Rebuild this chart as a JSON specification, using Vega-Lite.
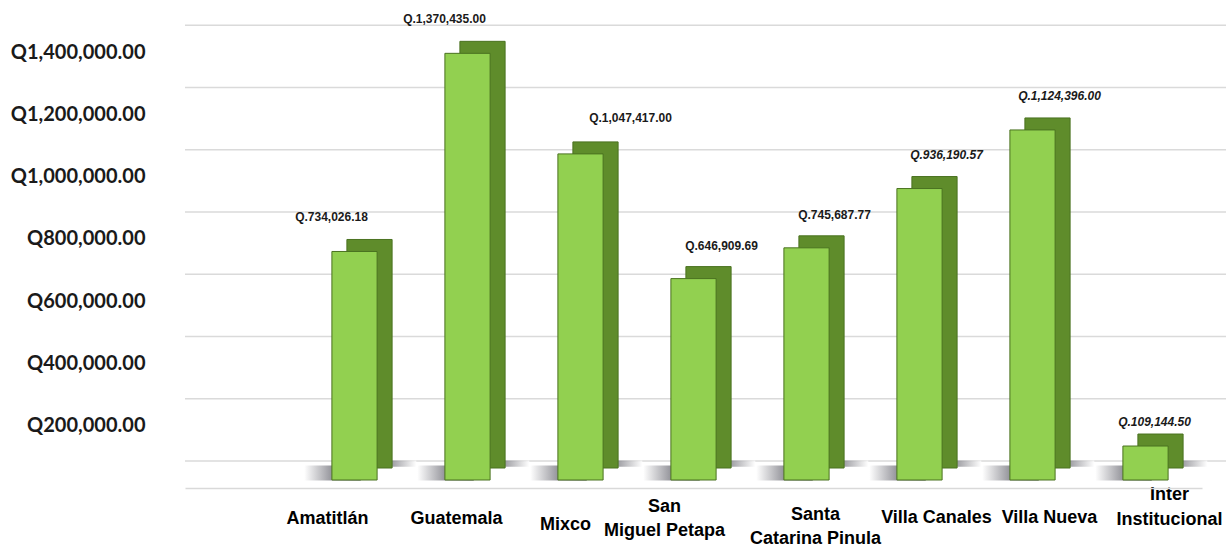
{
  "$schema": "https://vega.github.io/schema/vega-lite/v6.json",
  "autosize": {"type": "none"},
  "width": 1017,
  "height": 467,
  "padding": {"left": 185, "top": 21, "right": 24, "bottom": 64},
  "background": "white",
  "config": {
    "view": {"stroke": null},
    "locale": {"number": {"decimal": ".", "thousands": ",", "grouping": [3], "currency": ["Q", ""]}}
  },
  "datasets": {
    "montos": [
      {"municipio": "Amatitlán", "nombre": "Amatitlán", "monto": 734026.18, "etiqueta": "Q.734,026.18"},
      {"municipio": "Guatemala", "nombre": "Guatemala", "monto": 1370435.00, "etiqueta": "Q.1,370,435.00"},
      {"municipio": "Mixco", "nombre": "Mixco", "monto": 1047417.00, "etiqueta": "Q.1,047,417.00"},
      {"municipio": "San Miguel Petapa", "nombre": "San\nMiguel Petapa", "monto": 646909.69, "etiqueta": "Q.646,909.69"},
      {"municipio": "Santa Catarina Pinula", "nombre": "Santa\nCatarina Pinula", "monto": 745687.77, "etiqueta": "Q.745,687.77"},
      {"municipio": "Villa Canales", "nombre": "Villa Canales", "monto": 936190.57, "etiqueta": "Q.936,190.57"},
      {"municipio": "Villa Nueva", "nombre": "Villa Nueva", "monto": 1124396.00, "etiqueta": "Q.1,124,396.00"},
      {"municipio": "Inter Institucional", "nombre": "Inter\nInstitucional", "monto": 109144.50, "etiqueta": "Q.109,144.50"}
    ],
    "rejilla": [
      {"nivel": 0}, {"nivel": 200000}, {"nivel": 400000}, {"nivel": 600000},
      {"nivel": 800000}, {"nivel": 1000000}, {"nivel": 1200000}, {"nivel": 1400000}
    ]
  },
  "encoding": {
    "x": {
      "field": "municipio",
      "type": "nominal",
      "sort": null,
      "scale": {
        "domain": [" ", "Amatitlán", "Guatemala", "Mixco", "San Miguel Petapa", "Santa Catarina Pinula", "Villa Canales", "Villa Nueva", "Inter Institucional"],
        "paddingInner": 0,
        "paddingOuter": 0
      },
      "axis": {
        "title": null,
        "labels": false,
        "ticks": false,
        "domain": true,
        "domainColor": "#d9d9d9",
        "domainWidth": 1.5,
        "grid": false
      }
    },
    "y": {
      "field": "monto",
      "type": "quantitative",
      "scale": {"domain": [0, 1500000], "nice": false, "zero": true},
      "axis": {
        "title": null,
        "values": [200000, 400000, 600000, 800000, 1000000, 1200000, 1400000],
        "format": "$,.2f",
        "labelFont": "Lato, Open Sans, sans-serif",
        "labelFontWeight": "bold",
        "labelFontSize": 20,
        "labelColor": "#1a1a1a",
        "labelPadding": 40,
        "ticks": false,
        "domain": false,
        "grid": false
      }
    }
  },
  "layer": [
    {
      "data": {"name": "rejilla"},
      "mark": {"type": "rule", "color": "#dadada", "strokeWidth": 1.5, "xOffset": 27, "yOffset": -27},
      "encoding": {
        "x": null,
        "y": {
          "field": "nivel",
          "type": "quantitative",
          "scale": {"domain": [0, 1500000], "nice": false, "zero": true},
          "axis": {
            "title": null,
            "values": [200000, 400000, 600000, 800000, 1000000, 1200000, 1400000],
            "format": "$,.2f",
            "labelFont": "Lato, Open Sans, sans-serif",
            "labelFontWeight": "bold",
            "labelFontSize": 20,
            "labelColor": "#1a1a1a",
            "labelPadding": 40,
            "ticks": false,
            "domain": false,
            "grid": false
          }
        }
      }
    },
    {
      "data": {"name": "montos"},
      "mark": {
        "type": "rect",
        "width": {"band": 0.35},
        "xOffset": 42,
        "opacity": 0.8,
        "color": {"gradient": "linear", "x1": 0, "x2": 1, "y1": 0, "y2": 0, "stops": [{"offset": 0, "color": "#3c3c46"}, {"offset": 1, "color": "#ffffff"}]}
      },
      "encoding": {
        "y": {"datum": 68000, "type": "quantitative"},
        "y2": {"datum": 88000}
      }
    },
    {
      "data": {"name": "montos"},
      "mark": {
        "type": "rect",
        "width": {"band": 0.5},
        "xOffset": -22,
        "opacity": 0.9,
        "color": {"gradient": "linear", "x1": 0, "x2": 1, "y1": 0, "y2": 0, "stops": [{"offset": 0, "color": "#ffffff"}, {"offset": 0.55, "color": "#7a7a82"}, {"offset": 1, "color": "#33333d"}]}
      },
      "encoding": {
        "y": {"datum": 24000, "type": "quantitative"},
        "y2": {"datum": 72000}
      }
    },
    {
      "data": {"name": "montos"},
      "mark": {"type": "bar", "width": {"band": 0.4}, "color": "#5f8c2b", "stroke": "#4a7220", "strokeWidth": 1, "xOffset": 15, "yOffset": -20}
    },
    {
      "data": {"name": "montos"},
      "mark": {"type": "bar", "width": {"band": 0.4}, "color": "#92d050", "stroke": "#4a7220", "strokeWidth": 1, "yOffset": -8}
    },
    {
      "data": {"name": "montos"},
      "transform": [{"filter": "datum.municipio == 'Amatitlán'"}],
      "mark": {"type": "text", "font": "Liberation Sans, Arial, sans-serif", "fontWeight": "bold", "fontSize": 18, "color": "#000000", "baseline": "middle", "lineBreak": "\n", "lineHeight": 24, "dx": -27, "dy": 31},
      "encoding": {"y": {"datum": 0, "type": "quantitative"}, "text": {"field": "nombre"}}
    },
    {
      "data": {"name": "montos"},
      "transform": [{"filter": "datum.municipio == 'Guatemala'"}],
      "mark": {"type": "text", "font": "Liberation Sans, Arial, sans-serif", "fontWeight": "bold", "fontSize": 18, "color": "#000000", "baseline": "middle", "lineBreak": "\n", "lineHeight": 24, "dx": -11, "dy": 31},
      "encoding": {"y": {"datum": 0, "type": "quantitative"}, "text": {"field": "nombre"}}
    },
    {
      "data": {"name": "montos"},
      "transform": [{"filter": "datum.municipio == 'Mixco'"}],
      "mark": {"type": "text", "font": "Liberation Sans, Arial, sans-serif", "fontWeight": "bold", "fontSize": 18, "color": "#000000", "baseline": "middle", "lineBreak": "\n", "lineHeight": 24, "dx": -15, "dy": 37},
      "encoding": {"y": {"datum": 0, "type": "quantitative"}, "text": {"field": "nombre"}}
    },
    {
      "data": {"name": "montos"},
      "transform": [{"filter": "datum.municipio == 'San Miguel Petapa'"}],
      "mark": {"type": "text", "font": "Liberation Sans, Arial, sans-serif", "fontWeight": "bold", "fontSize": 18, "color": "#000000", "baseline": "middle", "lineBreak": "\n", "lineHeight": 24, "dx": -29, "dy": 19},
      "encoding": {"y": {"datum": 0, "type": "quantitative"}, "text": {"field": "nombre"}}
    },
    {
      "data": {"name": "montos"},
      "transform": [{"filter": "datum.municipio == 'Santa Catarina Pinula'"}],
      "mark": {"type": "text", "font": "Liberation Sans, Arial, sans-serif", "fontWeight": "bold", "fontSize": 18, "color": "#000000", "baseline": "middle", "lineBreak": "\n", "lineHeight": 24, "dx": 9, "dy": 27},
      "encoding": {"y": {"datum": 0, "type": "quantitative"}, "text": {"field": "nombre"}}
    },
    {
      "data": {"name": "montos"},
      "transform": [{"filter": "indexof(['Villa Canales','Villa Nueva'], datum.municipio) >= 0"}],
      "mark": {"type": "text", "font": "Liberation Sans, Arial, sans-serif", "fontWeight": "bold", "fontSize": 18, "color": "#000000", "baseline": "middle", "lineBreak": "\n", "lineHeight": 24, "dx": 17, "dy": 30},
      "encoding": {"y": {"datum": 0, "type": "quantitative"}, "text": {"field": "nombre"}}
    },
    {
      "data": {"name": "montos"},
      "transform": [{"filter": "datum.municipio == 'Inter Institucional'"}],
      "mark": {"type": "text", "font": "Liberation Sans, Arial, sans-serif", "fontWeight": "bold", "fontSize": 18, "color": "#000000", "baseline": "middle", "lineBreak": "\n", "lineHeight": 25, "dx": 24, "dy": 7},
      "encoding": {"y": {"datum": 0, "type": "quantitative"}, "text": {"field": "nombre"}}
    },
    {
      "data": {"name": "montos"},
      "transform": [{"filter": "indexof(['Amatitlán','Guatemala'], datum.municipio) >= 0"}],
      "mark": {"type": "text", "font": "Liberation Sans, Arial, sans-serif", "fontWeight": "bold", "fontSize": 12, "color": "#1a1a1a", "baseline": "middle", "dx": -23, "dy": -42},
      "encoding": {"text": {"field": "etiqueta"}}
    },
    {
      "data": {"name": "montos"},
      "transform": [{"filter": "datum.municipio == 'Mixco'"}],
      "mark": {"type": "text", "font": "Liberation Sans, Arial, sans-serif", "fontWeight": "bold", "fontSize": 12, "color": "#1a1a1a", "baseline": "middle", "dx": 50, "dy": -44},
      "encoding": {"text": {"field": "etiqueta"}}
    },
    {
      "data": {"name": "montos"},
      "transform": [{"filter": "indexof(['San Miguel Petapa','Santa Catarina Pinula'], datum.municipio) >= 0"}],
      "mark": {"type": "text", "font": "Liberation Sans, Arial, sans-serif", "fontWeight": "bold", "fontSize": 12, "color": "#1a1a1a", "baseline": "middle", "dx": 28, "dy": -41},
      "encoding": {"text": {"field": "etiqueta"}}
    },
    {
      "data": {"name": "montos"},
      "transform": [{"filter": "indexof(['Villa Canales','Villa Nueva'], datum.municipio) >= 0"}],
      "mark": {"type": "text", "font": "Liberation Sans, Arial, sans-serif", "fontWeight": "bold", "fontStyle": "italic", "fontSize": 12, "color": "#1a1a1a", "baseline": "middle", "dx": 27, "dy": -42},
      "encoding": {"text": {"field": "etiqueta"}}
    },
    {
      "data": {"name": "montos"},
      "transform": [{"filter": "datum.municipio == 'Inter Institucional'"}],
      "mark": {"type": "text", "font": "Liberation Sans, Arial, sans-serif", "fontWeight": "bold", "fontStyle": "italic", "fontSize": 12, "color": "#1a1a1a", "baseline": "middle", "dx": 9, "dy": -32},
      "encoding": {"text": {"field": "etiqueta"}}
    }
  ]
}
